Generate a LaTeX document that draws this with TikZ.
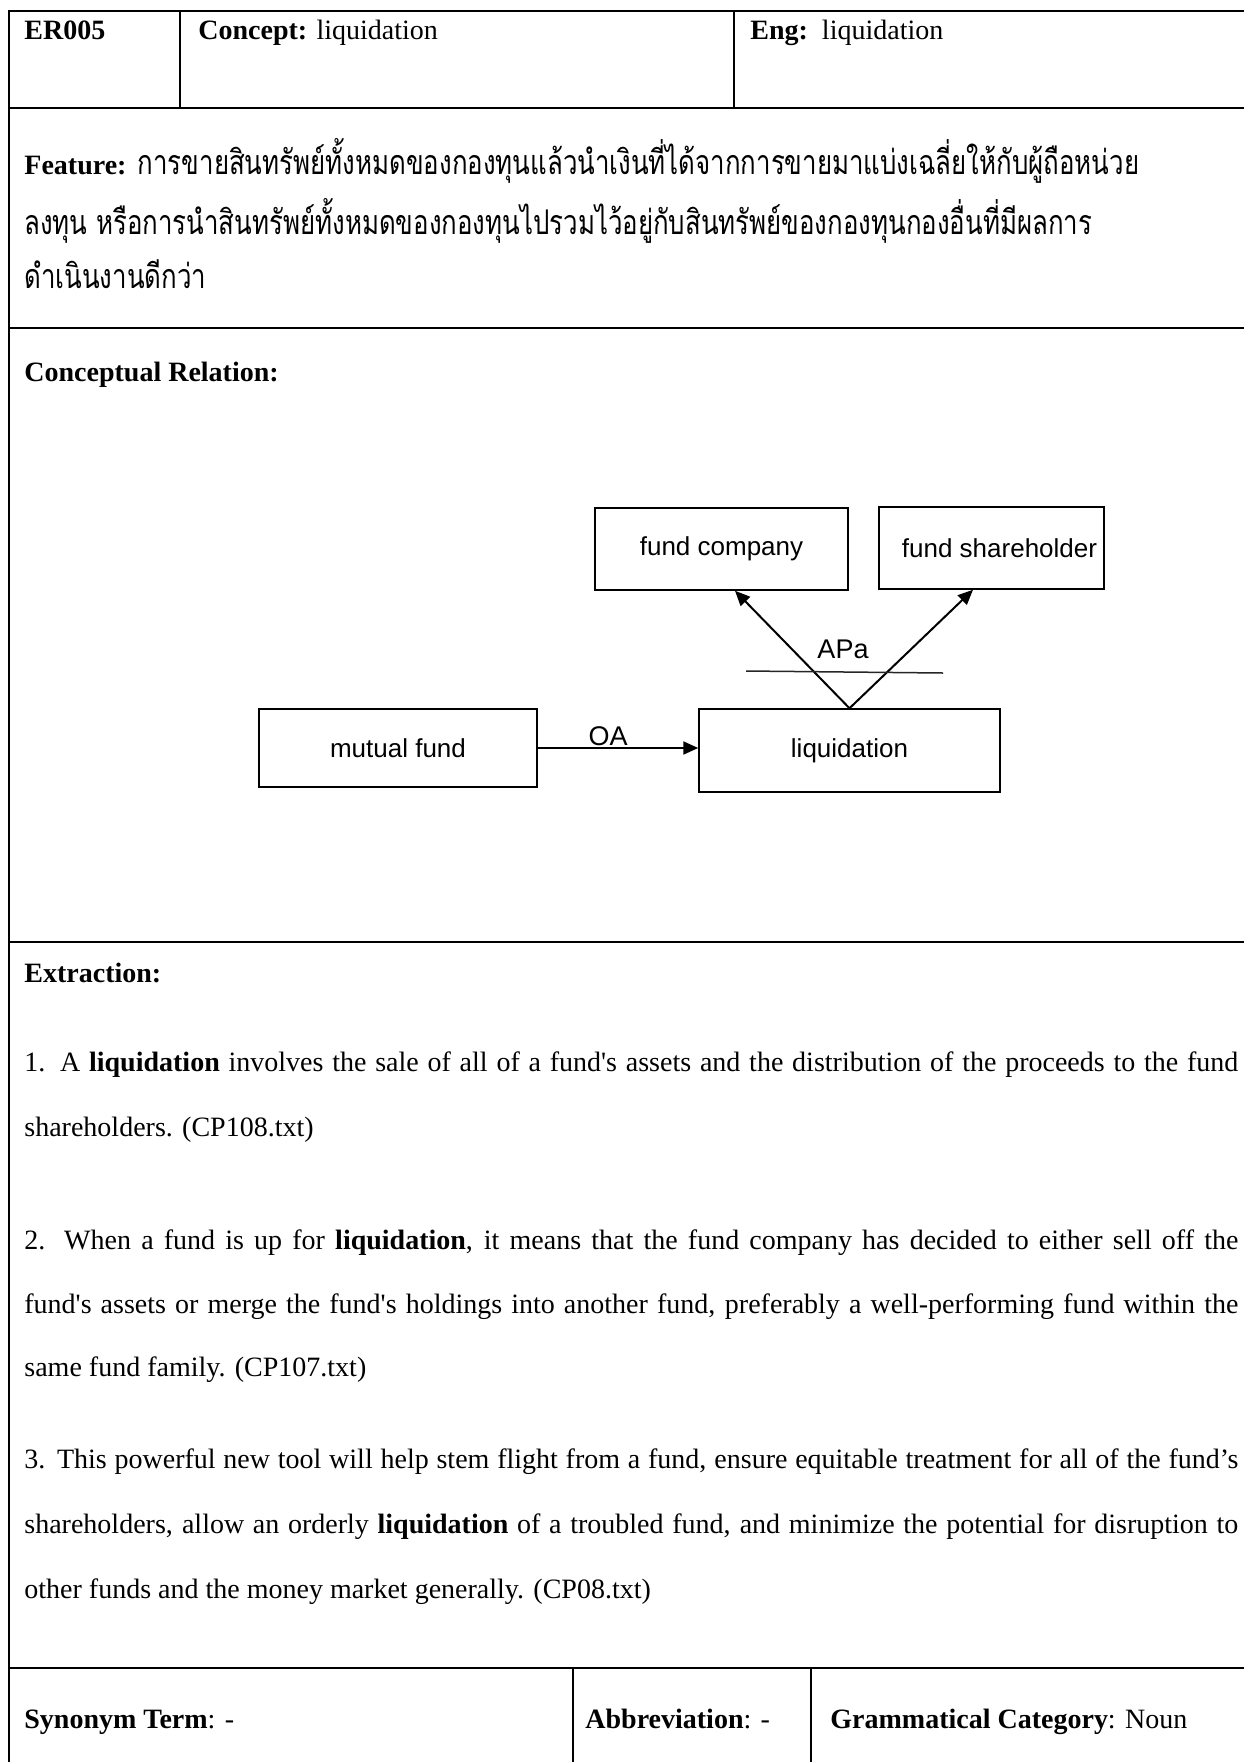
\documentclass[tikz,border=0pt]{standalone}
\usepackage{fontspec}
\setmainfont{Liberation Serif}
\newfontfamily\diagfont{Liberation Sans}
\newfontfamily\thaifont[Script=Thai,FakeStretch=0.76]{Loma}
\usetikzlibrary{arrows.meta}
\newcommand{\apos}{\textquotesingle}
\newcommand{\jline}[1]{\makebox[607pt][s]{#1}}

\begin{document}
\begin{tikzpicture}[x=0.5pt,y=-0.5pt,
  hrule/.style={line width=1.4pt},
  vrule/.style={line width=1.1pt},
  cell/.style={anchor=base west,inner sep=0pt,font=\fontsize{14}{16}\selectfont},
  thai/.style={anchor=base west,inner sep=0pt,font=\fontsize{17}{20}\selectfont},
  concept/.style={draw,line width=0.75pt,inner sep=0pt,font=\diagfont\fontsize{13}{15}\selectfont},
  rel/.style={inner sep=0pt,anchor=base,font=\diagfont\fontsize{13.5}{15}\selectfont},
  link/.style={line width=1pt,-{Triangle[length=7.5pt,width=6.5pt]}},
]
\fill[white] (0,0) rectangle (1244,1762);
\useasboundingbox (0,0) rectangle (1244,1762);

% table rules
\draw[hrule] (1244,11) -- (9,11) -- (9,1762);
\draw[hrule] (9,108) -- (1244,108);
\draw[hrule] (9,328) -- (1244,328);
\draw[hrule] (9,942) -- (1244,942);
\draw[hrule] (9,1668) -- (1244,1668);
\draw[vrule] (180,11) -- (180,108);
\draw[vrule] (734,11) -- (734,108);
\draw[vrule] (573,1668) -- (573,1762);
\draw[vrule] (811,1668) -- (811,1762);

% header row
\node[cell] (id) at (24,39) {\textbf{ER005}};
\node[cell] (cpt) at (198,39) {\textbf{Concept:} liquidation};
\node[cell] (eng) at (750,39) {\textbf{Eng:}\hspace{7pt}liquidation};

% feature row
\node[thai] (f1) at (24,174) {{\fontsize{14}{16}\selectfont\textbf{Feature:}} \thaifont การขายสินทรัพย์ทั้งหมดของกองทุนแล้วนำเงินที่ได้จากการขายมาแบ่งเฉลี่ยให้กับผู้ถือหน่วย};
\node[thai] (f2) at (24,234) {\thaifont ลงทุน หรือการนำสินทรัพย์ทั้งหมดของกองทุนไปรวมไว้อยู่กับสินทรัพย์ของกองทุนกองอื่นที่มีผลการ};
\node[thai] (f3) at (24,288) {\thaifont ดำเนินงานดีกว่า};

% conceptual relation row
\node[cell] (crel) at (24,381) {\textbf{Conceptual Relation:}};

\node[concept,minimum width=139pt,minimum height=39pt] (mf) at (398,748) {mutual fund};
\node[concept,minimum width=150.5pt,minimum height=41.5pt] (liq) at (849.5,750.5) {liquidation};
\node[concept,minimum width=126.5pt,minimum height=41pt] (fc) at (721.5,549) {fund company};
\node[concept,minimum width=112.5pt,minimum height=41pt] (fs) at (991.5,548) {\hspace{8pt}fund shareholder};

\draw[link] (mf.east) -- (liq.west |- mf.east);
\node[rel] (oa) at (608,745) {OA};
\draw[link] (liq.north) -- ([xshift=6.75pt]fc.south);
\draw[link] (liq.north) -- ([xshift=-9.25pt]fs.south);
\coordinate (barL) at (746,671);
\coordinate (barR) at (943,673);
\draw[line width=0.75pt,black!85] (barL) -- (barR);
\node[rel] (apa) at (843,658) {APa};

% extraction row
\node[cell] (ext) at (24,982) {\textbf{Extraction:}};
\node[cell] (e11) at (24,1071) {\jline{1. A \textbf{liquidation} involves the sale of all of a fund\apos s assets and the distribution of the proceeds to the fund}};
\node[cell] (e12) at (24,1136) {shareholders. (CP108.txt)};
\node[cell] (e21) at (24,1249) {\jline{2. When a fund is up for \textbf{liquidation}, it means that the fund company has decided to either sell off the}};
\node[cell] (e22) at (24,1313) {\jline{fund\apos s assets or merge the fund\apos s holdings into another fund, preferably a well-performing fund within the}};
\node[cell] (e23) at (24,1376) {same fund family. (CP107.txt)};
\node[cell] (e31) at (24,1468) {\jline{3. This powerful new tool will help stem flight from a fund, ensure equitable treatment for all of the fund’s}};
\node[cell] (e32) at (24,1533) {\jline{shareholders, allow an orderly \textbf{liquidation} of a troubled fund, and minimize the potential for disruption to}};
\node[cell] (e33) at (24,1598) {other funds and the money market generally. (CP08.txt)};

% bottom row
\node[cell] (syn) at (24,1728) {\textbf{Synonym Term}: -};
\node[cell] (abbr) at (585,1728) {\textbf{Abbreviation}: -};
\node[cell] (gram) at (830,1728) {\textbf{Grammatical Category}: Noun};
\end{tikzpicture}
\end{document}
